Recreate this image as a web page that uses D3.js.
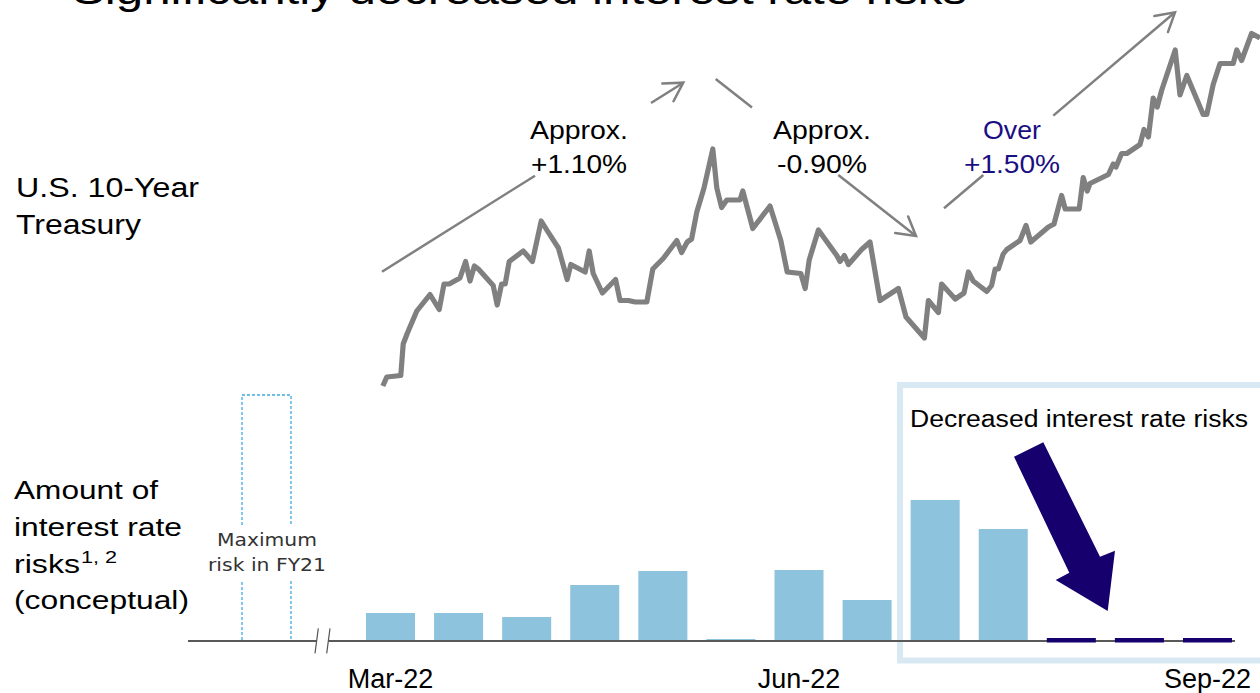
<!DOCTYPE html>
<html>
<head>
<meta charset="utf-8">
<script src="https://cdn.jsdelivr.net/npm/d3@7"></script>
<style>
  html, body { margin: 0; padding: 0; background: #fff; overflow: hidden; }
  svg { display: block; }
</style>
</head>
<body>
<svg id="chart" width="1260" height="693"></svg>
<script>
// U.S. 10-year Treasury yield path: days since 1 Mar 2022 and yield (%)
const treasuryDay = [0.2,1.2,4.7,5.3,6.3,8.7,12,14.3,15.5,16.8,19.5,20.9,22,23.1,24.1,27.8,28.8,29.9,30.8,31.8,
  35.3,36.3,37.6,39.8,41.2,44.1,46.3,47.2,50.8,51.8,52.8,55.1,58.4,59.5,61.6,63.3,66.2,67.7,68.8,70.3,
  73.7,74.9,76.3,77.4,78.7,80.5,82.7,83.7,84.9,86.2,89.5,90.2,92.7,97,99.7,101.3,104.7,105.8,106.8,109.1,
  113.7,114.5,115.6,116.6,119.9,122,124.5,129.1,131,135.6,136.6,139.1,139.9,143.3,145.5,146.6,147.8,151.2,152.4,153.3,
  154.1,155.3,156.2,159.5,161,162.2,166.6,168,169.9,170.8,174.3,175.3,176.3,177,181.6,182.8,183.5,184.9,186.2,189.5,
  190.5,191.6,192.8,193.8,194.9,198.3,199.5,201.2,205.3,206.2,207.8,209.5,212.8,213.7,214.9,217.4,219.5];
const treasuryYield = [1.72,1.78,1.79,2.00,2.07,2.22,2.33,2.23,2.40,2.40,2.44,2.55,2.42,2.52,2.50,2.39,2.26,2.40,2.40,2.55,
  2.62,2.59,2.55,2.82,2.76,2.64,2.43,2.53,2.48,2.62,2.47,2.34,2.43,2.29,2.29,2.28,2.28,2.50,2.53,2.57,
  2.69,2.61,2.68,2.70,2.88,3.04,3.30,3.04,2.91,2.96,2.96,3.02,2.77,2.92,2.69,2.48,2.47,2.37,2.56,2.76,
  2.59,2.55,2.59,2.53,2.63,2.68,2.29,2.37,2.18,2.04,2.29,2.21,2.40,2.30,2.34,2.48,2.42,2.35,2.39,2.50,
  2.50,2.60,2.63,2.69,2.79,2.68,2.78,2.80,2.99,2.90,2.90,3.11,3.02,3.07,3.13,3.20,3.18,3.27,3.27,3.33,
  3.43,3.38,3.64,3.58,3.69,3.96,3.66,3.79,3.53,3.53,3.73,3.87,3.87,3.96,3.89,4.07,4.04];

// Interest rate risk by half-month period (conceptual units)
const riskPeriods = ["2022-03-31","2022-04-15","2022-04-30","2022-05-15","2022-05-31","2022-06-15","2022-06-30",
  "2022-07-15","2022-07-31","2022-08-15","2022-08-31","2022-09-15","2022-09-30"];
const riskValues = [28, 28, 24, 56, 70, 2, 71, 41, 141, 112, 3, 3, 3];
const riskPhase = ["held","held","held","held","held","held","held","held","held","held","reduced","reduced","reduced"];
const fy21MaxRisk = 246;

// Period axis labels
const tickPeriods = ["2022-03-31", "2022-06-30", "2022-09-30"];
const tickLabels = ["Mar-22", "Jun-22", "Sep-22"];

// Trend annotations on the yield line
const trendLabels = [["Approx.", "+1.10%"], ["Approx.", "-0.90%"], ["Over", "+1.50%"]];

const svg = d3.select("#chart");
const SANS = "'Liberation Sans', Arial, Helvetica, sans-serif";
const GREY = "#808080";
const NAVY = "#16006e";

function label(g, x, y, str, o) {
  const t = g.append("text")
    .attr("x", x).attr("y", y)
    .attr("font-family", o.family || SANS)
    .attr("font-size", o.size)
    .attr("fill", o.fill || "#000")
    .attr("text-anchor", o.anchor || "start")
    .text(str);
  if (o.width) t.attr("textLength", o.width).attr("lengthAdjust", "spacingAndGlyphs");
  return t;
}

// ---- title (runs off the top edge of the slide) ----
label(svg, 72, 3.5, "Significantly decreased interest rate risks", {size: 40, width: 895});

// ---- highlight frame around the recent periods ----
svg.append("rect")
  .attr("x", 900).attr("y", 385).attr("width", 420).attr("height", 275.5)
  .attr("fill", "none").attr("stroke", "#d8e9f4").attr("stroke-width", 6);

// ---- Treasury yield line ----
const xDay = d3.scaleLinear().domain([0, 219.5]).range([382, 1260]);
const yYield = d3.scaleLinear().domain([1.5, 4.2]).range([419, 14]);

const yieldLine = d3.line()
  .x(i => xDay(treasuryDay[i]))
  .y(i => yYield(treasuryYield[i]));

svg.append("path")
  .attr("d", yieldLine(d3.range(treasuryDay.length)))
  .attr("fill", "none").attr("stroke", GREY)
  .attr("stroke-width", 5.2).attr("stroke-linejoin", "round");

// ---- trend arrows with their labels ----
function arrowHead(g, tip, from, len, ang) {
  const a = Math.atan2(from[1] - tip[1], from[0] - tip[0]);
  const p1 = [tip[0] + len * Math.cos(a + ang), tip[1] + len * Math.sin(a + ang)];
  const p2 = [tip[0] + len * Math.cos(a - ang), tip[1] + len * Math.sin(a - ang)];
  g.append("path").attr("d", d3.line()([p1, tip, p2]))
    .attr("fill", "none").attr("stroke", GREY).attr("stroke-width", 2.5)
    .attr("stroke-linecap", "round").attr("stroke-linejoin", "miter");
}
const arrows = [
  {segs: [[[382, 271.7], [535, 175.7]], [[651, 103]]], tip: [683.3, 82.7]},
  {segs: [[[715.7, 79], [752, 107.5]], [[838.3, 175.1]]], tip: [916, 236]},
  {segs: [[[944, 208.3], [983.3, 175]], [[1053.3, 115.6]]], tip: [1175, 12.3]}
];
const ag = svg.append("g");
arrows.forEach(a => {
  ag.append("path").attr("d", d3.line()(a.segs[0]))
    .attr("stroke", GREY).attr("stroke-width", 2.5).attr("fill", "none");
  ag.append("path").attr("d", d3.line()([a.segs[1][0], a.tip]))
    .attr("stroke", GREY).attr("stroke-width", 2.5).attr("fill", "none");
  arrowHead(ag, a.tip, a.segs[1][0], 21, Math.PI / 6);
});
const trendPos = [[579, "#000", [98, 96]], [822, "#000", [98, 90]], [1012, "#1a0f82", [58, 96]]];
trendLabels.forEach((lines, i) => {
  const [cx, col, w] = trendPos[i];
  label(svg, cx, 139, lines[0], {size: 25, anchor: "middle", fill: col, width: w[0]});
  label(svg, cx, 173, lines[1], {size: 25, anchor: "middle", fill: col, width: w[1]});
});

// ---- left-hand row titles ----
label(svg, 16, 197, "U.S. 10-Year", {size: 27, width: 183});
label(svg, 16, 234, "Treasury", {size: 27, width: 125});
label(svg, 14, 499, "Amount of", {size: 26, width: 144});
label(svg, 14, 536, "interest rate", {size: 26, width: 168});
label(svg, 14, 573, "risks", {size: 26, width: 66});
label(svg, 81, 563, "1, 2", {size: 17, width: 36});
label(svg, 14, 609, "(conceptual)", {size: 26, width: 175});

// ---- risk bars ----
const xBand = d3.scaleBand().domain(riskPeriods).range([366, 1232]).paddingInner(0.28).paddingOuter(0);
const yRisk = d3.scaleLinear().domain([0, 250]).range([641, 391]);
const phaseColor = d3.scaleOrdinal().domain(["held", "reduced"]).range(["#8ec3dd", NAVY]);

const bars = riskPeriods.map((p, i) => ({p, v: riskValues[i], phase: riskPhase[i]}));

svg.append("g").selectAll("rect")
  .data(bars.filter(d => d.phase === "held"))
  .join("rect")
  .attr("x", d => xBand(d.p)).attr("width", xBand.bandwidth())
  .attr("y", d => yRisk(d.v)).attr("height", d => yRisk(0) - yRisk(d.v))
  .attr("fill", d => phaseColor(d.phase));

// FY21 maximum, drawn as a dashed outline left of the axis break
const xFY = d3.scaleBand().domain(["FY21 max"]).range([242, 291]);
const fyG = svg.append("g");
fyG.append("rect")
  .attr("x", xFY("FY21 max")).attr("width", xFY.bandwidth())
  .attr("y", yRisk(fy21MaxRisk)).attr("height", yRisk(0) - yRisk(fy21MaxRisk))
  .attr("fill", "none").attr("stroke", "#3fa9e0").attr("stroke-width", 1.3)
  .attr("stroke-dasharray", "3,2");
fyG.append("rect").attr("x", 236).attr("y", 525).attr("width", 62).attr("height", 55).attr("fill", "#fff");
label(fyG, 267, 545.5, "Maximum", {size: 17, anchor: "middle", family: "'DejaVu Sans', sans-serif", fill: "#333", width: 100});
label(fyG, 267, 571, "risk in FY21", {size: 17, anchor: "middle", family: "'DejaVu Sans', sans-serif", fill: "#333", width: 118});

// baseline with axis break
svg.append("line").attr("x1", 188).attr("x2", 1235).attr("y1", 641).attr("y2", 641)
  .attr("stroke", "#595959").attr("stroke-width", 2);
svg.append("path").attr("d", "M318.3,628.3 L330,628.3 L326.7,653.3 L315,653.3 Z").attr("fill", "#fff");
svg.append("path").attr("d", "M318.3,628.3 L315,653.3 M330,628.3 L326.7,653.3")
  .attr("stroke", "#555").attr("stroke-width", 1.2).attr("fill", "none");

// reduced-risk periods sit on top of the baseline
svg.append("g").selectAll("rect")
  .data(bars.filter(d => d.phase === "reduced"))
  .join("rect")
  .attr("x", d => xBand(d.p)).attr("width", xBand.bandwidth())
  .attr("y", d => yRisk(d.v)).attr("height", d => yRisk(0) - yRisk(d.v) + 1.5)
  .attr("fill", d => phaseColor(d.phase));

// period axis
const axis = d3.axisBottom(xBand)
  .tickValues(tickPeriods)
  .tickFormat(p => tickLabels[tickPeriods.indexOf(p)])
  .tickSize(0).tickPadding(0);
const axG = svg.append("g").attr("transform", "translate(0,641)").call(axis);
axG.select(".domain").remove();
axG.selectAll("text")
  .attr("font-family", SANS).attr("font-size", 27).attr("fill", "#000")
  .attr("dy", null).attr("y", 47);

// ---- "decreased" call-out ----
label(svg, 910, 427, "Decreased interest rate risks", {size: 23.5, width: 338});
svg.append("path")
  .attr("d", "M1014,456.7 L1043.3,442.3 L1100,556.7 L1115,550.7 L1107.7,611 L1055.7,580 L1069.3,572.7 Z")
  .attr("fill", NAVY);
</script>
</body>
</html>
